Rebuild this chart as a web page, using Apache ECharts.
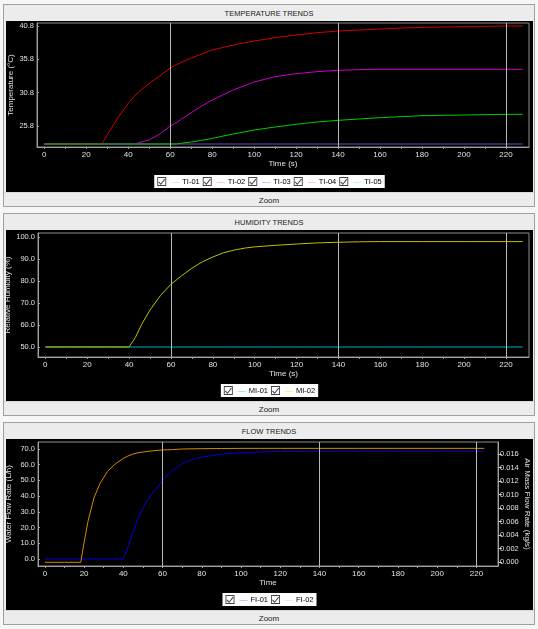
<!DOCTYPE html>
<html>
<head>
<meta charset="utf-8">
<script src="https://cdn.jsdelivr.net/npm/echarts@6/dist/echarts.min.js"></script>
<style>
body { margin: 0; width: 538px; height: 629px; position: relative; background: #f6f6f6; font-family: 'Liberation Sans', Arial, sans-serif; overflow: hidden; }
.panel { position: absolute; left: 3px; width: 532px; height: 203px; box-sizing: border-box; border: 1px solid #a0a0a0; background: #ececec; }
.head { position: absolute; left: 0; right: 0; top: 0; height: 16px; line-height: 17px; text-align: center; font-size: 7.5px; color: #222; }
.chart { position: absolute; left: 2px; top: 16px; width: 527px; height: 171px; background: #000; }
.foot { position: absolute; left: 0; right: 0; top: 187px; height: 14px; line-height: 15px; text-align: center; font-size: 8px; color: #222; border-top: 1px solid #dadada; box-sizing: border-box; }
</style>
</head>
<body>
<div class="panel" style="top:4px">
  <div class="head">TEMPERATURE TRENDS</div>
  <div class="chart" id="tempChart"></div>
  <div class="foot">Zoom</div>
</div>
<div class="panel" style="top:213px">
  <div class="head">HUMIDITY TRENDS</div>
  <div class="chart" id="humChart"></div>
  <div class="foot">Zoom</div>
</div>
<div class="panel" style="top:422px">
  <div class="head">FLOW TRENDS</div>
  <div class="chart" id="flowChart"></div>
  <div class="foot">Zoom</div>
</div>

<script>
// ---- data ----
var xLabels = [0, 20, 40, 60, 80, 100, 120, 140, 160, 180, 200, 220];
var xTicks = [0, 10, 20, 30, 40, 50, 60, 70, 80, 90, 100, 110, 120, 130, 140, 150, 160, 170, 180, 190, 200, 210, 220];
var markTimes = [60, 140, 220];

var tempTime = [0, 10, 20, 27.5, 30, 35, 40, 43, 45, 50, 55, 60, 63, 65, 70, 75, 80, 90, 100, 110, 120, 130, 140, 150, 160, 170, 180, 190, 200, 210, 220, 228];
var ti01 = [23.1, 23.1, 23.1, 23.1, 23.1, 23.1, 23.1, 23.1, 23.1, 23.1, 23.1, 23.1, 23.1, 23.1, 23.1, 23.1, 23.1, 23.1, 23.1, 23.1, 23.1, 23.1, 23.1, 23.1, 23.1, 23.1, 23.1, 23.1, 23.1, 23.1, 23.1, 23.1];
var ti02 = [23.1, 23.1, 23.1, 23.1, 23.1, 23.1, 23.1, 23.1, 23.3, 23.7, 24.6, 25.8, 26.3, 26.75, 27.8, 28.8, 29.7, 31.2, 32.4, 33.2, 33.65, 33.95, 34.15, 34.25, 34.3, 34.3, 34.3, 34.3, 34.3, 34.3, 34.3, 34.3];
var ti03 = [23.1, 23.1, 23.1, 23.1, 23.1, 23.1, 23.1, 23.1, 23.1, 23.1, 23.1, 23.1, 23.1, 23.1, 23.1, 23.1, 23.1, 23.1, 23.1, 23.1, 23.1, 23.1, 23.1, 23.1, 23.1, 23.1, 23.1, 23.1, 23.1, 23.1, 23.1, 23.1];
var ti04 = [23.1, 23.1, 23.1, 23.1, 24.5, 27.0, 29.2, 30.3, 30.95, 32.2, 33.3, 34.5, 35.0, 35.3, 36.0, 36.6, 37.2, 37.95, 38.55, 39.05, 39.45, 39.8, 40.05, 40.2, 40.35, 40.5, 40.6, 40.65, 40.7, 40.75, 40.8, 40.8];
var ti05 = [23.1, 23.1, 23.1, 23.1, 23.1, 23.1, 23.1, 23.1, 23.1, 23.1, 23.1, 23.1, 23.1, 23.2, 23.4, 23.65, 23.95, 24.6, 25.2, 25.65, 26.05, 26.4, 26.65, 26.85, 27.05, 27.2, 27.35, 27.4, 27.45, 27.5, 27.55, 27.55];
var tempLabels = [25.8, 30.8, 35.8, 40.8];

var humTime = [0, 10, 20, 30, 40, 43, 46, 50, 55, 60, 65, 70, 75, 80, 85, 90, 95, 100, 110, 120, 130, 140, 150, 160, 180, 200, 220, 228];
var mi01 = [50, 50, 50, 50, 50, 50, 50, 50, 50, 50, 50, 50, 50, 50, 50, 50, 50, 50, 50, 50, 50, 50, 50, 50, 50, 50, 50, 50];
var mi02 = [50, 50, 50, 50, 50, 54.3, 60.3, 66.8, 73.4, 78.5, 82.3, 85.8, 88.7, 90.9, 92.8, 94.0, 94.9, 95.5, 96.2, 96.8, 97.3, 97.6, 97.8, 97.9, 97.9, 97.9, 97.9, 97.9];
var humLabels = [50, 60, 70, 80, 90, 100];

var flowTime = [0, 10, 18.3, 20, 22, 25, 28, 32, 36, 40, 40.5, 42.5, 45, 48, 52, 56, 60, 65, 70, 75, 80, 90, 100, 110, 120, 140, 160, 180, 200, 224];
var fi01 = [0, 0, 0, 0, 0, 0, 0, 0, 0, 0, 0, 8.0, 17.5, 27.6, 37.0, 43.8, 50.0, 56.4, 60.6, 63.3, 64.9, 66.7, 67.6, 68.1, 68.4, 68.5, 68.6, 68.6, 68.6, 68.6];
var fi02 = [-2.1, -2.1, -2.1, 10.5, 24.0, 38.8, 47.8, 55.8, 60.6, 64.0, 64.4, 65.6, 66.8, 67.7, 68.4, 69.0, 69.4, 69.6, 70.0, 70.1, 70.2, 70.3, 70.4, 70.4, 70.4, 70.4, 70.4, 70.4, 70.4, 70.4];
var waterLabels = [0, 10, 20, 30, 40, 50, 60, 70];
var airLabels = [0, 0.002, 0.004, 0.006, 0.008, 0.010, 0.012, 0.014, 0.016];

// ---- helpers ----
var FONT = "'Liberation Sans', Arial, sans-serif";
var CHECK_ICON = 'path://M0,0H10V10H0Z M1,1V9H9V1Z M2,5L4,7.2L8,2L8.9,2.8L4,8.8L1.2,5.8Z';

function pairs(t, v) {
    return t.map(function (x, i) { return [x, v[i]]; });
}

function lineSeries(name, time, values, color, withMarks, yIndex) {
    var s = {
        name: name,
        type: 'line',
        data: pairs(time, values),
        yAxisIndex: yIndex || 0,
        showSymbol: false,
        symbol: 'none',
        lineStyle: { color: color, width: 1 },
        itemStyle: { color: color }
    };
    if (withMarks) {
        s.markLine = {
            silent: true,
            symbol: ['none', 'none'],
            label: { show: false },
            lineStyle: { color: '#b8b8b8', width: 1, type: 'solid' },
            data: markTimes.map(function (t) { return { xAxis: t }; })
        };
    }
    return s;
}

function makeLegend(names, colors) {
    var rich = {};
    colors.forEach(function (c, i) {
        rich['c' + i] = { color: c, fontSize: 8, padding: [0, 3, 0, 0] };
    });
    rich.t = { color: '#000', fontSize: 7.5, fontFamily: FONT };
    return {
        top: 154,
        left: 'center',
        backgroundColor: '#fff',
        padding: [2, 3],
        itemGap: 3,
        itemWidth: 9,
        itemHeight: 9,
        icon: CHECK_ICON,
        itemStyle: { color: '#444', borderWidth: 0 },
        selectedMode: false,
        data: names,
        textStyle: { rich: rich, fontFamily: FONT, fontSize: 7.5 },
        formatter: function (name) {
            var i = names.indexOf(name);
            return '{c' + i + '|—}{t|' + name + '}';
        }
    };
}

function xAxisCfg(name) {
    return {
        type: 'value',
        min: -3.5,
        max: 231,
        name: name,
        nameLocation: 'middle',
        nameGap: 13,
        nameMoveOverlap: false,
        nameTextStyle: { color: '#e0e0e0', fontSize: 8, fontFamily: FONT },
        axisLine: { show: true, onZero: false, lineStyle: { color: '#a0a0a0' } },
        axisTick: { show: true, customValues: xTicks, length: 2, lineStyle: { color: '#a0a0a0' } },
        axisLabel: { customValues: xLabels, color: '#e0e0e0', fontSize: 8, fontFamily: FONT, margin: 4 },
        splitLine: { show: false }
    };
}

function yAxisCfg(name, min, max, labels, digits, gap) {
    return {
        type: 'value',
        min: min,
        max: max,
        name: name,
        nameLocation: 'middle',
        nameGap: gap,
        nameMoveOverlap: false,
        nameTextStyle: { color: '#e0e0e0', fontSize: 8, fontFamily: FONT },
        axisLine: { show: true, onZero: false, lineStyle: { color: '#a0a0a0' } },
        axisTick: { show: true, inside: true, customValues: labels, length: 2, lineStyle: { color: '#a0a0a0' } },
        axisLabel: {
            customValues: labels, color: '#e0e0e0', fontSize: 7.5, fontFamily: FONT, margin: 3,
            formatter: function (v) { return v.toFixed(digits); }
        },
        splitLine: { show: false }
    };
}

function render(id, option) {
    var dom = document.getElementById(id);
    var chart = echarts.init(dom);
    chart.setOption(option);
    window.addEventListener('resize', function () { chart.resize(); });
}

// ---- temperature ----
render('tempChart', {
    animation: false,
    backgroundColor: '#000',
    grid: { left: 31, right: 4, top: 2, bottom: 45, show: true, borderColor: '#8c8c8c', borderWidth: 1, outerBoundsMode: 'none' },
    legend: makeLegend(['TI-01', 'TI-02', 'TI-03', 'TI-04', 'TI-05'],
        ['#ffd080', '#ff88ff', '#8c8cff', '#ff8c8c', '#8cff8c']),
    xAxis: xAxisCfg('Time (s)'),
    yAxis: yAxisCfg('Temperature (°C)', 22.65, 41.25, tempLabels, 1, 22),
    series: [
        lineSeries('TI-01', tempTime, ti01, '#e09000', true),
        lineSeries('TI-02', tempTime, ti02, '#c800c8'),
        lineSeries('TI-03', tempTime, ti03, '#0000c0'),
        lineSeries('TI-04', tempTime, ti04, '#d00000'),
        lineSeries('TI-05', tempTime, ti05, '#00cc00')
    ]
});

// ---- humidity ----
render('humChart', {
    animation: false,
    backgroundColor: '#000',
    grid: { left: 32, right: 4, top: 3, bottom: 44, show: true, borderColor: '#8c8c8c', borderWidth: 1, outerBoundsMode: 'none' },
    legend: makeLegend(['MI-01', 'MI-02'], ['#30e8f0', '#f0f020']),
    xAxis: xAxisCfg('Time (s)'),
    yAxis: yAxisCfg('Relative Humidity (%)', 45.45, 101.8, humLabels, 1, 26),
    series: [
        lineSeries('MI-01', humTime, mi01, '#00b0b8', true),
        lineSeries('MI-02', humTime, mi02, '#c0c000')
    ]
});

// ---- flow ----
var airAxis = yAxisCfg('Air Mass Flow Rate (kg/s)', -0.00059, 0.01778, airLabels, 3, 25);
airAxis.position = 'right';
airAxis.nameRotate = -90;
airAxis.axisTick = { show: true, inside: false, customValues: airLabels, length: 4, lineStyle: { color: '#c0c0c0' } };
airAxis.axisLabel.margin = 2;

render('flowChart', {
    animation: false,
    backgroundColor: '#000',
    grid: { left: 32, right: 35, top: 3, bottom: 44, show: true, borderColor: '#8c8c8c', borderWidth: 1, outerBoundsMode: 'none' },
    legend: makeLegend(['FI-01', 'FI-02'], ['#8c8cff', '#ffd080']),
    xAxis: xAxisCfg('Time'),
    yAxis: [
        yAxisCfg('Water Flow Rate (L/h)', -4.45, 74.45, waterLabels, 1, 25),
        airAxis
    ],
    series: [
        lineSeries('FI-01', flowTime, fi01, '#0000e0', true),
        lineSeries('FI-02', flowTime, fi02, '#d88800')
    ]
});
</script>
</body>
</html>
